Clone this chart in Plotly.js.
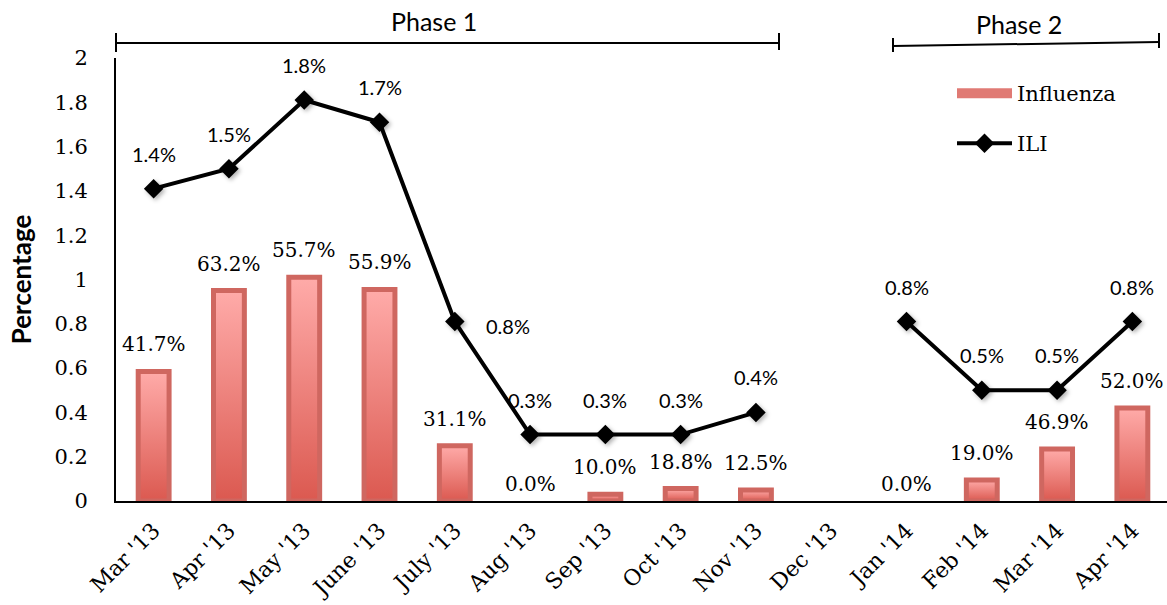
<!DOCTYPE html>
<html>
<head>
<meta charset="utf-8">
<script src="https://cdn.plot.ly/plotly-3.0.1.min.js"></script>
<style>
  html, body { margin: 0; padding: 0; background: #fff; }
  #chart { width: 1167px; height: 605px; }
  /* soft shadow under the ILI diamonds */
  #chart .scatterlayer .trace:last-child .points path {
    filter: drop-shadow(2px 2px 2px rgba(0, 0, 0, 0.3));
  }
</style>
</head>
<body>
<div id="chart"></div>
<script>
// Monthly surveillance: ILI share of consultations (line) and the
// influenza-attributable share (bars), labelled with lab positivity.
const months = ["Mar '13", "Apr '13", "May '13", "June '13", "July '13", "Aug '13",
                "Sep '13", "Oct '13", "Nov '13", "Dec '13", "Jan '14", "Feb '14",
                "Mar '14", "Apr '14"];
const influenza = [0.585, 0.95, 1.01, 0.955, 0.25, 0, 0.03, 0.056, 0.05, null, 0, 0.095, 0.235, 0.42];
const positivity = [41.7, 63.2, 55.7, 55.9, 31.1, 0.0, 10.0, 18.8, 12.5, null, 0.0, 19.0, 46.9, 52.0];
const ili = [1.41, 1.5, 1.81, 1.71, 0.81, 0.3, 0.3, 0.3, 0.4, null, 0.81, 0.5, 0.5, 0.81];
const phases = [
  { name: 'Phase 1', from: "Mar '13", to: "Nov '13" },
  { name: 'Phase 2', from: "Jan '14", to: "Apr '14" }
];

const W = 1167, H = 605;
const M = { l: 116, r: 0, t: 58, b: 104, autoexpand: false };
const plotW = W - M.l - M.r, plotH = H - M.t - M.b;
// pixel -> paper helpers for the decorations above the plot
const px = x => (x - M.l) / plotW;
const py = y => (H - M.b - y) / plotH;

const serif = '"DejaVu Serif", serif';
const sans = 'Lato, sans-serif';
const idx = months.map((_, i) => i);
const halfBar = 0.205;

const traces = [];

// bars drawn as filled outlines so each one gets its own vertical gradient
influenza.forEach((v, i) => {
  if (v === null || v <= 0) return;
  traces.push({
    type: 'scatter', mode: 'lines',
    x: [i - halfBar, i - halfBar, i + halfBar, i + halfBar, i - halfBar],
    y: [0, v, v, 0, 0],
    fill: 'toself',
    fillgradient: { type: 'vertical', colorscale: [[0, '#db5950'], [1, '#ffaba9']] },
    line: { color: '#cf6760', width: 5 },
    showlegend: false, hoverinfo: 'skip'
  });
});

// legend entry for the bars
traces.push({
  type: 'scatter', mode: 'lines', x: [null], y: [null],
  name: 'Influenza', legend: 'legend',
  line: { color: '#e07a74', width: 19 }
});

traces.push({
  type: 'scatter', mode: 'lines+markers',
  x: idx, y: ili, name: 'ILI', legend: 'legend2',
  connectgaps: false,
  line: { color: '#000', width: 4 },
  marker: { symbol: 'diamond', size: 15, color: '#000' }
});

const annotations = [];
positivity.forEach((p, i) => {
  if (p === null) return;
  const v = influenza[i];
  annotations.push({
    x: i, y: v, xref: 'x', yref: 'y', showarrow: false,
    text: p.toFixed(1) + '%', yanchor: 'middle',
    yshift: v > 0 ? 27 : 17,
    font: { family: serif, size: 20, color: '#000' }
  });
});
const sideLabel = months.indexOf("July '13");
ili.forEach((v, i) => {
  if (v === null) return;
  const side = i === sideLabel;
  annotations.push({
    x: i, y: v, xref: 'x', yref: 'y', showarrow: false,
    text: v.toFixed(1) + '%', yanchor: 'middle',
    xshift: side ? 53 : 0, yshift: side ? -4 : 35,
    font: { family: sans, size: 20, color: '#000' }
  });
});

// phase brackets above the plot
const bracket = [
  { x0: 116, y0: 43, x1: 779, y1: 43, tl: [33, 52], tr: [33, 50] },
  { x0: 893, y0: 46, x1: 1159, y1: 42, tl: [38, 52], tr: [33, 48] }
];
const labelPos = [{ x: 434, y: 21 }, { x: 1019, y: 24 }];
const shapes = [];
bracket.forEach((b, k) => {
  const ln = { color: '#000', width: 2 };
  shapes.push({ type: 'line', xref: 'paper', yref: 'paper', x0: px(b.x0), y0: py(b.y0), x1: px(b.x1), y1: py(b.y1), line: ln });
  shapes.push({ type: 'line', xref: 'paper', yref: 'paper', x0: px(b.x0), y0: py(b.tl[0]), x1: px(b.x0), y1: py(b.tl[1]), line: ln });
  shapes.push({ type: 'line', xref: 'paper', yref: 'paper', x0: px(b.x1), y0: py(b.tr[0]), x1: px(b.x1), y1: py(b.tr[1]), line: ln });
  annotations.push({
    x: px(labelPos[k].x), y: py(labelPos[k].y), xref: 'paper', yref: 'paper',
    showarrow: false, text: phases[k].name, xanchor: 'center', yanchor: 'middle',
    font: { family: sans, size: 25, color: '#000' }
  });
});

const layout = {
  width: W, height: H,
  margin: M,
  paper_bgcolor: '#fff', plot_bgcolor: '#fff',
  showlegend: true,
  xaxis: {
    type: 'linear', range: [-0.5, 13.46], automargin: false,
    tickvals: idx, ticktext: months, tickangle: -45,
    tickfont: { family: serif, size: 22, color: '#000' },
    ticklabelstandoff: 6,
    showline: true, linecolor: '#000', linewidth: 2,
    ticks: '', showgrid: false, zeroline: false, fixedrange: true
  },
  yaxis: {
    range: [0, 2], tick0: 0, dtick: 0.2, automargin: false,
    tickfont: { family: serif, size: 21, color: '#000' },
    ticklabelstandoff: 22,
    showline: true, linecolor: '#000', linewidth: 2,
    ticks: '', showgrid: false, zeroline: false, fixedrange: true,
    title: { text: 'Percentage', standoff: 15, font: { family: 'Lato', size: 26, weight: 700, color: '#000' } }
  },
  legend: {
    xref: 'container', yref: 'container', x: 952 / W, y: 1 - 73 / H,
    xanchor: 'left', yanchor: 'top', itemwidth: 55,
    bgcolor: 'rgba(0,0,0,0)', borderwidth: 0,
    font: { family: serif, size: 21, color: '#000' }
  },
  legend2: {
    xref: 'container', yref: 'container', x: 952 / W, y: 1 - 123 / H,
    xanchor: 'left', yanchor: 'top', itemwidth: 55,
    bgcolor: 'rgba(0,0,0,0)', borderwidth: 0,
    font: { family: serif, size: 21, color: '#000' }
  },
  shapes: shapes,
  annotations: annotations
};

Plotly.newPlot('chart', traces, layout, { displayModeBar: false, staticPlot: true });
</script>
</body>
</html>
